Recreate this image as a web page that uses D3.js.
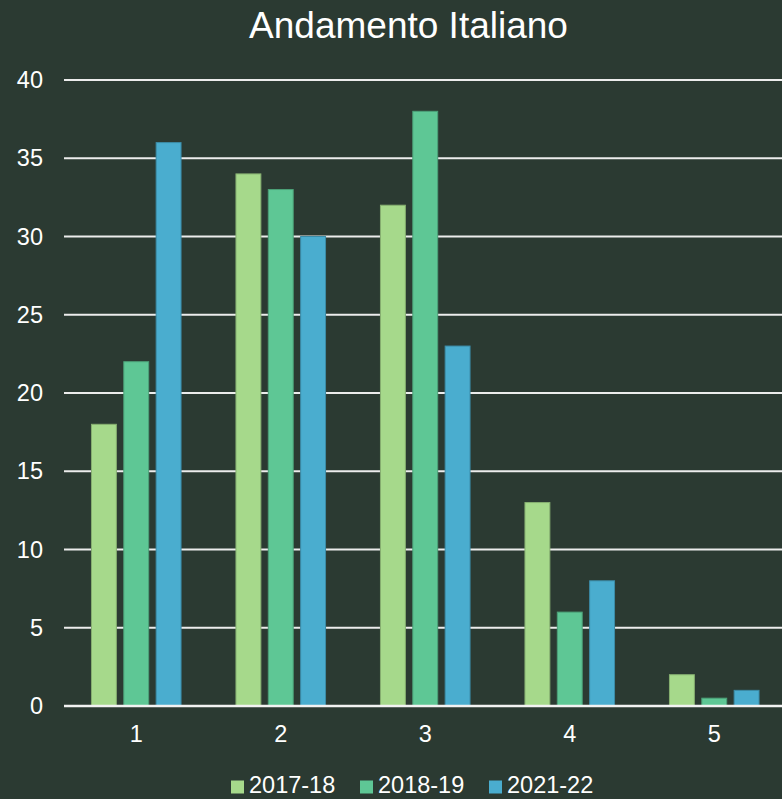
<!DOCTYPE html>
<html><head><meta charset="utf-8">
<script src="https://cdn.jsdelivr.net/npm/d3@7"></script>
<style>
html,body{margin:0;padding:0;background:#2b3a32;}
svg{display:block;}
text{font-family:"Liberation Sans",Arial,sans-serif;fill:#ffffff;}
</style></head>
<body>
<svg id="c" width="782" height="799"></svg>
<script>
const categories = ["1","2","3","4","5"];
const seriesNames = ["2017-18","2018-19","2021-22"];
const s2017 = [18,34,32,13,2];
const s2018 = [22,33,38,6,0.5];
const s2021 = [36,30,23,8,1];
const yTicks = [0,5,10,15,20,25,30,35,40];
const colors = ["#a6d98b","#5ec795","#4aadcf"];
const seriesValues = [s2017,s2018,s2021];

const svg = d3.select("#c");
svg.append("rect").attr("width",782).attr("height",799).attr("fill","#2b3a32");

const y = d3.scaleLinear().domain([0,40]).range([706,80]);
const x0 = d3.scaleBand().domain(categories).range([64,786.5]).paddingInner(0.38).paddingOuter(0.19);
const x1 = d3.scaleBand().domain(seriesNames).range([0,x0.bandwidth()]).paddingInner(0.23).paddingOuter(0);

svg.append("text").attr("x",408.5).attr("y",38).attr("text-anchor","middle")
  .style("font-size","37px").text("Andamento Italiano");

// gridlines
svg.append("g").selectAll("line").data(yTicks.filter(d=>d>0)).join("line")
  .attr("x1",64).attr("x2",782).attr("y1",d=>y(d)).attr("y2",d=>y(d))
  .attr("stroke","#ececec").attr("stroke-width",2);

// y labels
svg.append("g").selectAll("text").data(yTicks).join("text")
  .attr("x",43).attr("y",d=>y(d)+8).attr("text-anchor","end")
  .style("font-size","23.5px").text(d=>d);

// bars
const groups = svg.append("g").selectAll("g").data(categories).join("g")
  .attr("transform",d=>`translate(${x0(d)},0)`);
groups.selectAll("rect").data((d,i)=>seriesNames.map((s,j)=>({s,j,v:seriesValues[j][i]}))).join("rect")
  .attr("x",d=>x1(d.s)).attr("width",x1.bandwidth())
  .attr("y",d=>y(d.v)).attr("height",d=>y(0)-y(d.v))
  .attr("fill",d=>colors[d.j])
  .attr("stroke",d=>d3.color(colors[d.j]).darker(0.6)).attr("stroke-width",1);

// baseline
svg.append("line").attr("x1",64).attr("x2",782).attr("y1",y(0)).attr("y2",y(0))
  .attr("stroke","#f2f2f2").attr("stroke-width",2.5);

// x labels
svg.append("g").selectAll("text").data(categories).join("text")
  .attr("x",d=>x0(d)+x0.bandwidth()/2).attr("y",742).attr("text-anchor","middle")
  .style("font-size","23.5px").text(d=>d);

// legend
const legX = [231,360,489];
const leg = svg.append("g").selectAll("g").data(seriesNames).join("g")
  .attr("transform",(d,i)=>`translate(${legX[i]},0)`);
leg.append("rect").attr("x",0).attr("y",780.5).attr("width",13).attr("height",13).attr("fill",(d,i)=>colors[i]);
leg.append("text").attr("x",18).attr("y",793).style("font-size","23.5px").text(d=>d);
</script>
</body></html>
